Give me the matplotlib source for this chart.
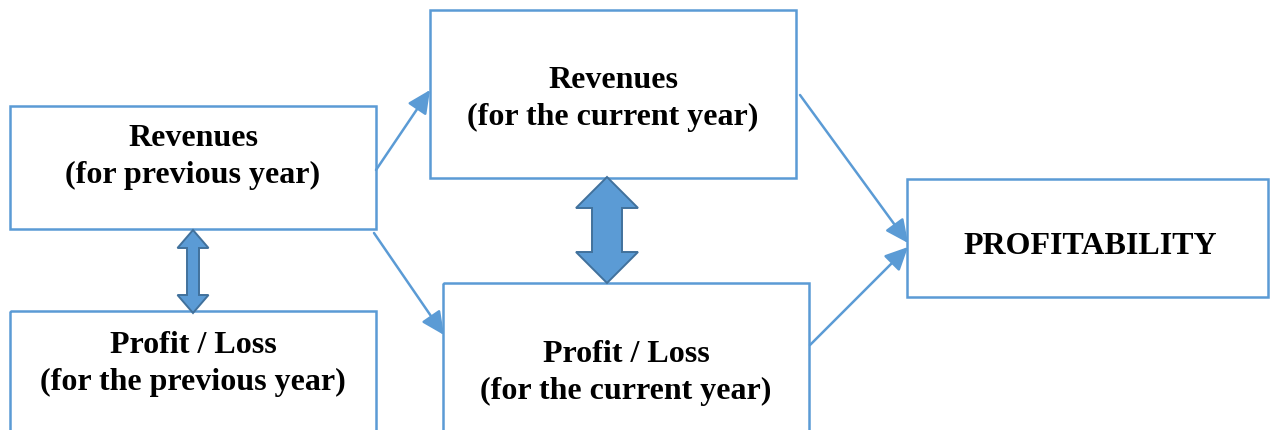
import matplotlib.pyplot as plt
from matplotlib.patches import Rectangle, Polygon

# box texts
labels = ["Revenues\n(for previous year)",
          "Profit / Loss\n(for the previous year)",
          "Revenues\n(for the current year)",
          "Profit / Loss\n(for the current year)",
          "PROFITABILITY"]

# layout in pixels (x0, y0, x1, y1), y down
boxes = [(10, 106, 376, 229),
         (10, 311, 376, 445),
         (430, 10, 796, 178),
         (443, 283, 809, 445),
         (907, 179, 1268, 297)]
text_pos = [(193, 157), (193, 364), (613, 99), (626, 373), (1090, 247)]

# arrows (start, end)
arrows = [((376, 170), (430, 90)),
          ((374, 233), (444, 335)),
          ((800, 95), (908, 243)),
          ((810, 345), (908, 247))]

# double arrows: x centre, top, bottom, head width, shaft width, head length
double_arrows = [(193, 230, 313, 31, 12, 18),
                 (607, 177, 283, 62, 30, 31)]

blue = "#5B9BD5"
dark = "#41719C"

fig = plt.figure(figsize=(12.72, 4.30), dpi=100)
ax = fig.add_axes([0, 0, 1, 1])
ax.set_xlim(0, 1272)
ax.set_ylim(430, 0)
ax.axis("off")

for (x0, y0, x1, y1) in boxes:
    ax.add_patch(Rectangle((x0, y0), x1 - x0, y1 - y0, fill=False,
                           edgecolor=blue, linewidth=1.8))

for lab, (x, y) in zip(labels, text_pos):
    ax.text(x, y, lab, ha="center", va="center", fontsize=23,
            fontweight="bold", family="Liberation Serif",
            linespacing=1.4, color="black")

for (s, e) in arrows:
    ax.annotate("", xy=e, xytext=s,
                arrowprops=dict(arrowstyle="-|>,head_length=0.5,head_width=0.24",
                                color=blue, lw=1.8,
                                mutation_scale=28, shrinkA=0, shrinkB=0))

for (xc, top, bot, hw, sw, hl) in double_arrows:
    pts = [(xc, top), (xc + hw / 2, top + hl), (xc + sw / 2, top + hl),
           (xc + sw / 2, bot - hl), (xc + hw / 2, bot - hl), (xc, bot),
           (xc - hw / 2, bot - hl), (xc - sw / 2, bot - hl),
           (xc - sw / 2, top + hl), (xc - hw / 2, top + hl)]
    ax.add_patch(Polygon(pts, closed=True, facecolor=blue,
                         edgecolor=dark, linewidth=1.4, zorder=3))

fig.savefig("out.png", dpi=100)
